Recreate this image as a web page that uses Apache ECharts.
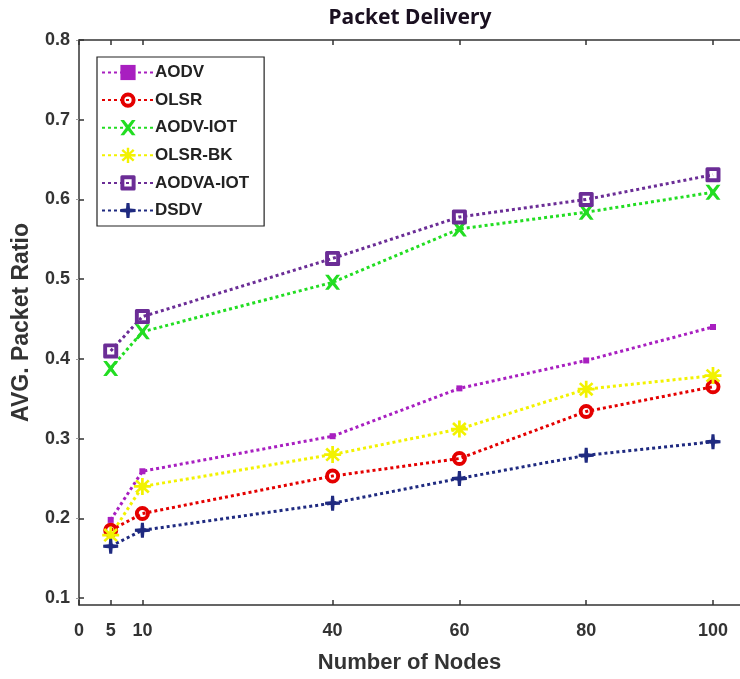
<!DOCTYPE html>
<html>
<head>
<meta charset="utf-8">
<script src="https://cdn.jsdelivr.net/npm/echarts@6/dist/echarts.min.js"></script>
<style>html,body{margin:0;padding:0;background:#fff;}#c{width:740px;height:679px;}</style>
</head>
<body>
<div id="c"></div>
<script>
const nodes = [5, 10, 40, 60, 80, 100];
const xTicks = [0, 5, 10, 40, 60, 80, 100];
const yTicks = [0.1, 0.2, 0.3, 0.4, 0.5, 0.6, 0.7, 0.8];
const seriesNames = ['AODV', 'OLSR', 'AODV-IOT', 'OLSR-BK', 'AODVA-IOT', 'DSDV'];
const aodv     = [0.198, 0.259, 0.303, 0.363, 0.398, 0.440];
const olsr     = [0.185, 0.206, 0.253, 0.275, 0.334, 0.365];
const aodvIot  = [0.388, 0.434, 0.496, 0.563, 0.584, 0.609];
const olsrBk   = [0.179, 0.240, 0.280, 0.312, 0.362, 0.379];
const aodvaIot = [0.410, 0.453, 0.526, 0.578, 0.600, 0.631];
const dsdv     = [0.165, 0.185, 0.219, 0.250, 0.279, 0.296];

const pairs = v => nodes.map((n, i) => [n, v[i]]);
const XMARK = 'path://M0,0 L2.4,0 L5,3.2 L7.6,0 L10,0 L6.4,5 L10,10 L7.6,10 L5,6.8 L2.4,10 L0,10 L3.6,5 Z';
const PLUS = 'path://M4,0 L6,0 L6.3,3.7 L10,4 L10,6 L6.3,6.3 L6,10 L4,10 L3.7,6.3 L0,6 L0,4 L3.7,3.7 Z';
const STAR = 'path://M4.2,0 H5.8 V3.1 L8.2,0.9 L9.3,2 L6.9,4.2 H10 V5.8 H6.9 L9.3,8 L8.2,9.1 L5.8,6.9 V10 H4.2 V6.9 L1.8,9.1 L0.7,8 L3.1,5.8 H0 V4.2 H3.1 L0.7,2 L1.8,0.9 L4.2,3.1 Z';
const RING = 'path://M5,0 A5,5 0 1,1 5,10 A5,5 0 1,1 5,0 Z M5,2.6 A2.4,2.4 0 1,0 5,7.4 A2.4,2.4 0 1,0 5,2.6 Z';
const SQRING = 'path://M1,0 H9 Q10,0 10,1 V9 Q10,10 9,10 H1 Q0,10 0,9 V1 Q0,0 1,0 Z M2.6,2.6 V7.4 H7.4 V2.6 Z';

const defs = [
  {name: seriesNames[0], data: aodv, color: '#A81FC0', symbol: 'rect', size: 6},
  {name: seriesNames[1], data: olsr, color: '#E40000', symbol: RING, size: 15},
  {name: seriesNames[2], data: aodvIot, color: '#22DD22', symbol: XMARK, size: 15},
  {name: seriesNames[3], data: olsrBk, color: '#F2F200', symbol: STAR, size: 17},
  {name: seriesNames[4], data: aodvaIot, color: '#6B2D96', symbol: SQRING, size: 15},
  {name: seriesNames[5], data: dsdv, color: '#1F2A80', symbol: PLUS, size: 15}
];

const series = defs.map(d => ({
  name: d.name,
  type: 'line',
  data: pairs(d.data),
  symbol: d.symbol,
  symbolSize: d.size,
  showAllSymbol: true,
  lineStyle: {color: d.color, width: 3, type: [3, 3]},
  itemStyle: {color: d.color, borderWidth: 0},
  emphasis: {disabled: true},
  z: 3
}));

const labelFont = {fontFamily: 'Liberation Sans', fontWeight: 'bold', fontSize: 18, color: '#333'};
const axisLineStyle = {color: '#333', width: 1.5};

const option = {
  animation: false,
  backgroundColor: '#fff',
  title: {
    text: 'Packet Delivery',
    left: 405, top: 3, textAlign: 'center',
    textStyle: {fontFamily: 'Noto Sans', fontWeight: 'bold', fontSize: 21, color: '#1a1020'}
  },
  grid: {left: 79, top: 40, right: 0, bottom: 72, containLabel: false},
  legend: {
    orient: 'vertical', left: 97, top: 57,
    data: seriesNames,
    borderColor: '#222', borderWidth: 1.2,
    padding: [7, 15, 7, 4],
    itemWidth: 52, itemHeight: 19, itemGap: 10.6,
    backgroundColor: '#fff',
    textStyle: {fontFamily: 'Liberation Sans', fontWeight: 'bold', fontSize: 17, color: '#222', padding: [0, 0, 0, -4]}
  },
  xAxis: [{
    type: 'value', min: 0, max: 104.26, position: 'bottom',
    name: 'Number of Nodes', nameLocation: 'middle', nameGap: 47,
    nameTextStyle: {fontFamily: 'Liberation Sans', fontWeight: 'bold', fontSize: 22, color: '#333'},
    axisLine: {show: true, onZero: false, lineStyle: axisLineStyle},
    axisTick: {show: true, inside: true, length: 5, customValues: xTicks, lineStyle: axisLineStyle},
    axisLabel: {show: true, customValues: xTicks, margin: 17, ...labelFont},
    splitLine: {show: false}
  }, {
    type: 'value', min: 0, max: 104.26, position: 'top',
    axisLine: {show: true, onZero: false, lineStyle: axisLineStyle},
    axisTick: {show: true, inside: true, length: 5, customValues: xTicks, lineStyle: axisLineStyle},
    axisLabel: {show: false},
    splitLine: {show: false}
  }],
  yAxis: [{
    type: 'value', min: 0.09125, max: 0.8, position: 'left',
    name: 'AVG. Packet Ratio', nameLocation: 'middle', nameGap: 46, nameRotate: 90,
    nameTextStyle: {fontFamily: 'Liberation Sans', fontWeight: 'bold', fontSize: 23, color: '#333'},
    axisLine: {show: true, onZero: false, lineStyle: axisLineStyle},
    axisTick: {show: true, inside: true, length: 5, customValues: yTicks, lineStyle: axisLineStyle},
    axisLabel: {show: true, customValues: yTicks, margin: 9, formatter: v => v.toFixed(1), ...labelFont},
    splitLine: {show: false}
  }, {
    type: 'value', min: 0.09125, max: 0.8, position: 'right',
    axisLine: {show: false},
    axisTick: {show: true, inside: true, length: 3, customValues: yTicks, lineStyle: {color: '#999', width: 1}},
    axisLabel: {show: false},
    splitLine: {show: false}
  }],
  series: series
};

const chart = echarts.init(document.getElementById('c'), null, {renderer: 'canvas'});
chart.setOption(option);
</script>
</body>
</html>
